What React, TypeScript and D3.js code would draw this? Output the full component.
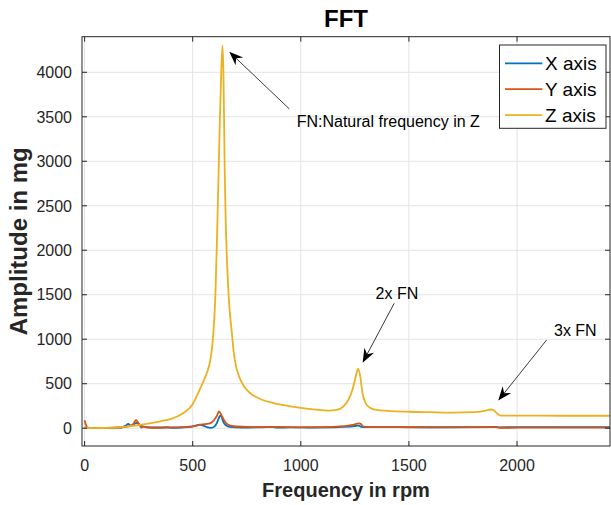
import React from 'react';
import * as d3 from 'd3';

const W = 611;
const H = 505;
const FONT = '"Liberation Sans", Arial, Helvetica, sans-serif';

const chartTitle = 'FFT';
const xLabel = 'Frequency in rpm';
const yLabel = 'Amplitude in mg';
const seriesNames = ['X axis', 'Y axis', 'Z axis'];
const seriesColors = ['#0072BD', '#D95319', '#EDB120'];

const xDomain = [-12, 2430];
const yDomain = [-200, 4400];
const xTicks = [0, 500, 1000, 1500, 2000];
const yTicks = [0, 500, 1000, 1500, 2000, 2500, 3000, 3500, 4000];

// X axis (blue)
const xRpm = [0, 20, 60, 120, 170, 190, 202, 215, 228, 240, 252, 265, 280, 300, 340, 380, 400, 450, 490, 515, 532, 548, 565, 585, 600, 612, 622, 630, 640, 652, 670, 700, 760, 820, 870, 890, 950, 1050, 1150, 1190, 1220, 1250, 1268, 1280, 1300, 1400, 1600, 1800, 1900, 1920, 2000, 2200, 2430];
const xAmp = [8, 3, 2, 3, 8, 30, 48, 28, 45, 60, 45, 25, 15, 10, 8, 12, 5, 8, 15, 30, 40, 30, 12, 4, 18, 60, 120, 148, 80, 35, 15, 10, 8, 10, 14, 6, 10, 8, 10, 15, 18, 25, 28, 14, 12, 12, 11, 12, 14, 10, 12, 12, 12];

// Y axis (red)
const yRpm = [0, 6, 14, 30, 80, 150, 190, 210, 225, 238, 250, 262, 275, 290, 330, 400, 450, 500, 520, 545, 565, 585, 600, 612, 622, 632, 645, 660, 690, 750, 850, 900, 1000, 1100, 1180, 1220, 1250, 1268, 1275, 1290, 1350, 1500, 1700, 1900, 1920, 2100, 2430];
const yAmp = [90, 40, 5, 2, 3, 5, 15, 25, 45, 92, 55, 8, 18, 8, 5, 8, 12, 20, 30, 42, 48, 60, 95, 140, 190, 150, 90, 45, 22, 15, 12, 16, 10, 12, 20, 30, 42, 55, 52, 18, 12, 11, 10, 12, 5, 6, 6];

// Z axis (yellow)
const zRpm = [0, 40, 100, 150, 200, 250, 300, 350, 400, 450, 500, 530, 550, 565, 582, 595, 605, 612, 620, 626, 632, 638, 642, 645, 648, 653, 660, 670, 680, 690, 700, 715, 730, 750, 780, 820, 870, 920, 1000, 1070, 1130, 1165, 1195, 1220, 1240, 1255, 1265, 1275, 1285, 1300, 1320, 1350, 1400, 1500, 1600, 1700, 1800, 1850, 1878, 1895, 1910, 1925, 2000, 2200, 2430];
const zAmp = [5, 2, 3, 8, 20, 35, 55, 78, 105, 160, 270, 420, 530, 620, 770, 1050, 1500, 2100, 2900, 3500, 4000, 4300, 4000, 3500, 2900, 2300, 1800, 1350, 1100, 850, 700, 580, 500, 430, 370, 320, 285, 260, 228, 208, 198, 205, 240, 320, 440, 590, 670, 580, 400, 280, 230, 205, 195, 185, 180, 176, 180, 195, 210, 195, 160, 142, 142, 140, 140];

// annotations: text, text position (data), arrow tail & tip (data)
const annTexts = ['FN:Natural frequency in Z', '2x FN', '3x FN'];
const annTextPos = [[981, 3385], [1346, 1450], [2171, 1037]];
const annTail = [[947, 3588], [1432, 1404], [2137, 992]];
const annTip = [[669, 4231], [1286, 737], [1913, 310]];

const PL = 82, PR = 610, PT = 36.7, PB = 446;

export default function App() {
  const x = d3.scaleLinear().domain(xDomain).range([PL, PR]);
  const y = d3.scaleLinear().domain(yDomain).range([PB, PT]);
  const line = d3
    .line<[number, number]>()
    .x((d) => x(d[0]))
    .y((d) => y(d[1]))
    .curve(d3.curveMonotoneX);

  const series = [
    xRpm.map((r, i) => [r, xAmp[i]] as [number, number]),
    yRpm.map((r, i) => [r, yAmp[i]] as [number, number]),
    zRpm.map((r, i) => [r, zAmp[i]] as [number, number]),
  ];

  const axisColor = '#262626';
  const gridColor = '#e3e3e3';
  const tickLen = 5;

  const arrowHead = (tail: number[], tip: number[]) => {
    const tx = x(tip[0]);
    const ty = y(tip[1]);
    const sx = x(tail[0]);
    const sy = y(tail[1]);
    const dx = tx - sx;
    const dy = ty - sy;
    const len = Math.hypot(dx, dy);
    const ux = dx / len;
    const uy = dy / len;
    const nx = -uy;
    const ny = ux;
    const L = 14;
    const Wd = 5.5;
    const notch = 9.5;
    const pts = [
      [tx, ty],
      [tx - L * ux + Wd * nx, ty - L * uy + Wd * ny],
      [tx - notch * ux, ty - notch * uy],
      [tx - L * ux - Wd * nx, ty - L * uy - Wd * ny],
    ];
    return {
      d: 'M' + pts.map((p) => p.join(',')).join('L') + 'Z',
      lx2: tx - notch * ux,
      ly2: ty - notch * uy,
      sx,
      sy,
    };
  };

  return (
    <svg
      width={W}
      height={H}
      style={{ position: 'absolute', left: 0, top: 0, background: '#fff' }}
      fontFamily={FONT}
    >
      <rect x={0} y={0} width={W} height={H} fill="#fff" />
      <defs>
        <clipPath id="plotClip">
          <rect x={PL} y={PT} width={PR - PL} height={PB - PT} />
        </clipPath>
      </defs>
      {/* grid */}
      {xTicks.map((t) => (
        <line key={'gx' + t} x1={x(t)} x2={x(t)} y1={PT} y2={PB} stroke={gridColor} strokeWidth={1} />
      ))}
      {yTicks.map((t) => (
        <line key={'gy' + t} x1={PL} x2={PR} y1={y(t)} y2={y(t)} stroke={gridColor} strokeWidth={1} />
      ))}
      {/* series */}
      <g clipPath="url(#plotClip)">
        {series.map((s, i) => (
          <path
            key={'s' + i}
            d={line(s) || ''}
            fill="none"
            stroke={seriesColors[i]}
            strokeWidth={1.8}
            strokeLinejoin="round"
          />
        ))}
      </g>
      {/* axes box */}
      <rect x={PL} y={PT} width={PR - PL} height={PB - PT} fill="none" stroke={axisColor} strokeWidth={1} />
      {/* ticks */}
      {xTicks.map((t) => (
        <g key={'tx' + t}>
          <line x1={x(t)} x2={x(t)} y1={PB} y2={PB - tickLen} stroke={axisColor} />
          <line x1={x(t)} x2={x(t)} y1={PT} y2={PT + tickLen} stroke={axisColor} />
          <text x={x(t)} y={471} textAnchor="middle" fontSize={16} fill={axisColor}>
            {t}
          </text>
        </g>
      ))}
      {yTicks.map((t) => (
        <g key={'ty' + t}>
          <line x1={PL} x2={PL + tickLen} y1={y(t)} y2={y(t)} stroke={axisColor} />
          <line x1={PR} x2={PR - tickLen} y1={y(t)} y2={y(t)} stroke={axisColor} />
          <text x={72} y={y(t)} dy="0.36em" textAnchor="end" fontSize={16} fill={axisColor}>
            {t}
          </text>
        </g>
      ))}
      {/* labels */}
      <text x={(PL + PR) / 2} y={27} textAnchor="middle" fontSize={24} fontWeight="bold" fill="#000">
        {chartTitle}
      </text>
      <text x={(PL + PR) / 2} y={497} textAnchor="middle" fontSize={20} fontWeight="bold" fill={axisColor}>
        {xLabel}
      </text>
      <text
        transform={`translate(27, ${(PT + PB) / 2}) rotate(-90)`}
        textAnchor="middle"
        fontSize={24}
        fontWeight="bold"
        fill={axisColor}
      >
        {yLabel}
      </text>
      {/* annotations */}
      {annTexts.map((txt, i) => {
        const a = arrowHead(annTail[i], annTip[i]);
        return (
          <g key={'ann' + i}>
            <line x1={a.sx} y1={a.sy} x2={a.lx2} y2={a.ly2} stroke="#222" strokeWidth={0.9} />
            <path d={a.d} fill="#000" />
            <text x={x(annTextPos[i][0])} y={y(annTextPos[i][1])} fontSize={16} fill="#000">
              {txt}
            </text>
          </g>
        );
      })}
      {/* legend */}
      <g>
        <rect x={499.5} y={45} width={106.5} height={83.3} fill="#fff" stroke={axisColor} strokeWidth={1} />
        {seriesNames.map((n, i) => (
          <g key={'lg' + i}>
            <line x1={505} x2={542.3} y1={63.3 + i * 25.9} y2={63.3 + i * 25.9} stroke={seriesColors[i]} strokeWidth={1.8} />
            <text x={545} y={63.3 + i * 25.9} dy="0.36em" fontSize={19} fill="#000">
              {n}
            </text>
          </g>
        ))}
      </g>
    </svg>
  );
}
